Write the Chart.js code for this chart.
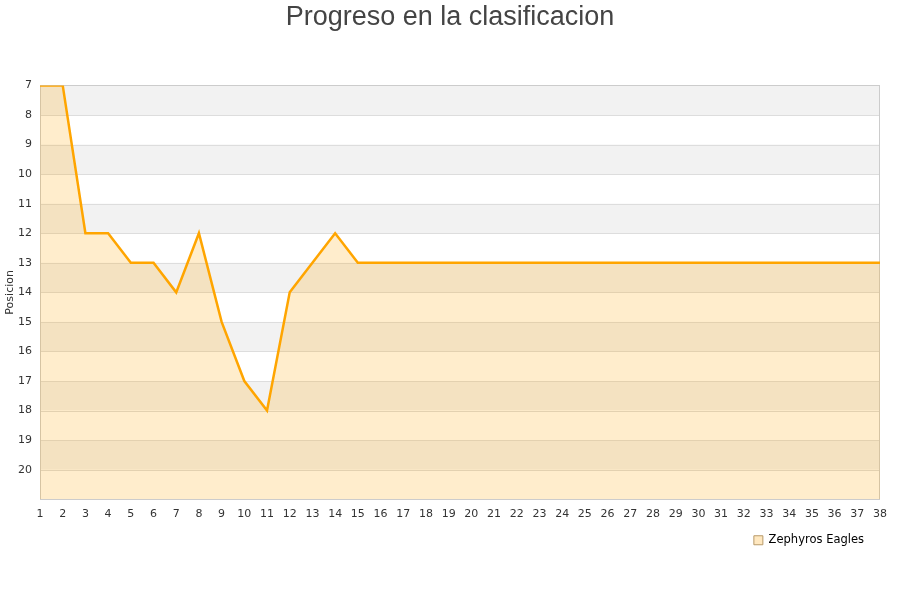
<!DOCTYPE html>
<html>
<head>
<meta charset="utf-8">
<script src="https://cdn.jsdelivr.net/npm/chart.js@4"></script>
<style>
  html, body { margin: 0; padding: 0; background: #fff; }
  #wrap { width: 900px; height: 600px; }
</style>
</head>
<body>
<div id="wrap"><canvas id="c" width="900" height="600"></canvas></div>
<script>
// Jornadas del campeonato y posición en la tabla tras cada una
const jornadas = ['1','2','3','4','5','6','7','8','9','10','11','12','13','14','15','16','17','18','19','20',
  '21','22','23','24','25','26','27','28','29','30','31','32','33','34','35','36','37','38'];
const posiciones = [7, 7, 12, 12, 13, 13, 14, 12, 15, 17, 18, 14, 13, 12, 13, 13, 13, 13, 13, 13,
  13, 13, 13, 13, 13, 13, 13, 13, 13, 13, 13, 13, 13, 13, 13, 13, 13, 13];
const equipo = 'Zephyros Eagles';
const posMin = 7;
const posMax = 21;

// Franjas horizontales alternas detrás de la serie
const bandas = {
  id: 'bandas',
  beforeDatasetsDraw(chart) {
    const { ctx, chartArea: a, scales: { y } } = chart;
    ctx.save();
    for (let v = posMin; v < posMax; v++) {
      const y1 = y.getPixelForValue(v);
      const y2 = y.getPixelForValue(v + 1);
      ctx.fillStyle = ((v - posMin) % 2 === 0) ? '#f2f2f2' : '#ffffff';
      ctx.fillRect(a.left, Math.min(y1, y2), a.right - a.left, Math.abs(y2 - y1));
    }
    // líneas de separación
    ctx.strokeStyle = '#dddddd';
    ctx.lineWidth = 1;
    for (let v = posMin + 1; v < posMax; v++) {
      const yy = Math.round(y.getPixelForValue(v)) + 0.5;
      ctx.beginPath();
      ctx.moveTo(a.left, yy);
      ctx.lineTo(a.right, yy);
      ctx.stroke();
    }
    ctx.strokeStyle = '#cccccc';
    ctx.strokeRect(Math.round(a.left) + 0.5, Math.round(a.top) + 0.5,
      Math.round(a.right - a.left) - 1, Math.round(a.bottom - a.top));
    ctx.restore();
  }
};

// Título centrado en todo el lienzo y leyenda algo separada del borde derecho
const ajusteCajas = {
  id: 'ajusteCajas',
  afterLayout(chart) {
    if (chart.titleBlock) chart.titleBlock.right += 20;
    if (chart.legend) chart.legend.right -= 10;
  }
};

Chart.defaults.font.family = '"DejaVu Sans", Verdana, sans-serif';
Chart.defaults.color = '#333';

new Chart(document.getElementById('c'), {
  type: 'line',
  data: {
    labels: jornadas,
    datasets: [{
      label: equipo,
      data: posiciones,
      borderColor: '#ffa500',
      borderWidth: 2.5,
      backgroundColor: 'rgba(255,165,0,0.2)',
      fill: { value: posMax },
      tension: 0,
      pointRadius: 0,
      pointHoverRadius: 0
    }]
  },
  options: {
    responsive: false,
    animation: false,
    layout: { padding: { left: 0, right: 20, top: 0, bottom: 44 } },
    plugins: {
      title: {
        display: true,
        text: 'Progreso en la clasificacion',
        color: '#444',
        font: { family: '"Liberation Sans", Arial, sans-serif', size: 27, weight: 'normal' },
        padding: { top: 1, bottom: 52 }
      },
      legend: {
        display: true,
        position: 'bottom',
        align: 'end',
        labels: {
          color: '#000',
          font: { size: 11.5 },
          boxWidth: 9,
          boxHeight: 9,
          padding: 6,
          generateLabels(chart) {
            return chart.data.datasets.map((d, i) => ({
              text: d.label,
              fillStyle: '#ffe8c0',
              strokeStyle: '#b89a6a',
              lineWidth: 1,
              datasetIndex: i
            }));
          }
        }
      },
      tooltip: { enabled: false }
    },
    scales: {
      x: {
        offset: false,
        grid: { display: false, drawTicks: false },
        border: { display: false },
        ticks: { font: { size: 11 }, color: '#333', maxRotation: 0, autoSkip: false, padding: 8 }
      },
      y: {
        min: posMin,
        max: posMax,
        reverse: true,
        grid: { display: false, drawTicks: false },
        border: { display: false },
        afterFit(s) { s.width = 40; },
        ticks: {
          stepSize: 1,
          font: { size: 11 },
          color: '#333',
          padding: 8,
          callback(v) { return v >= posMax ? '' : v; }
        },
        title: {
          display: true,
          text: 'Posicion',
          color: '#333',
          font: { size: 11 },
          padding: { top: 4, bottom: 0 }
        }
      }
    }
  },
  plugins: [bandas, ajusteCajas]
});
</script>
</body>
</html>
